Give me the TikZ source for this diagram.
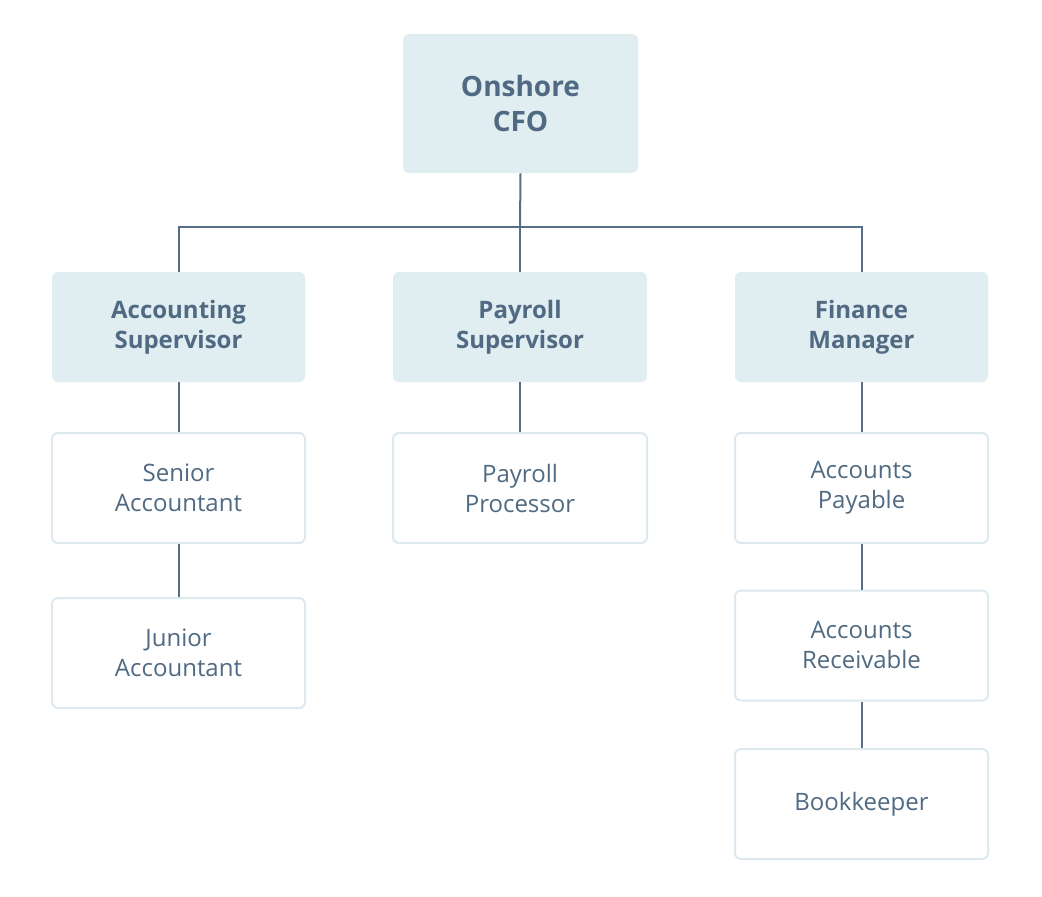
\documentclass[tikz,border=0pt]{standalone}
\usepackage{fontspec}
\setmainfont{Open Sans}
\definecolor{fillc}{HTML}{E0EDF1}
\definecolor{txt}{HTML}{4F6A82}
\definecolor{linec}{HTML}{566F86}
\definecolor{bord}{HTML}{DDE9EE}
\tikzset{
 px/.style={x=0.75pt,y=-0.75pt},
 topbox/.style={fill=fillc,rounded corners=4.5pt,text=txt,font=\bfseries\fontsize{18}{22.5}\selectfont,align=center,inner sep=0pt},
 whitebox/.style={fill=white,draw=bord,line width=1.5pt,rounded corners=4.5pt,text=txt,font=\fontsize{18}{22.5}\selectfont,align=center,inner sep=0pt},
 conn/.style={draw=linec,line width=1.5pt}
}
\begin{document}
\begin{tikzpicture}[px]
\useasboundingbox (0,0) rectangle (1042,896);
\node[topbox,minimum width=176.25pt,minimum height=104.25pt,font=\bfseries\fontsize{21}{26}\selectfont] (cfo) at (520.5,103.5) {Onshore\\CFO};
\node[topbox,minimum width=189.75pt,minimum height=82.5pt] (acc) at (178.5,327) {Accounting\\Supervisor};
\node[topbox,minimum width=190.5pt,minimum height=82.5pt] (pay) at (520,327) {Payroll\\Supervisor};
\node[topbox,minimum width=189.75pt,minimum height=82.5pt] (fin) at (861.5,327) {Finance\\Manager};
\node[whitebox,minimum width=189.75pt,minimum height=82.5pt] (sen) at (178.5,488) {Senior\\Accountant};
\node[whitebox,minimum width=189.75pt,minimum height=82.5pt] (jun) at (178.5,653) {Junior\\Accountant};
\node[whitebox,minimum width=190.5pt,minimum height=82.5pt] (pp) at (520,488) {Payroll\\Processor};
\node[whitebox,minimum width=189.75pt,minimum height=82.5pt] (ap) at (861.5,488) {Accounts\\Payable};
\node[whitebox,minimum width=189.75pt,minimum height=82.5pt] (ar) at (861.5,645.5) {Accounts\\Receivable};
\node[whitebox,minimum width=189.75pt,minimum height=82.5pt] (bk) at (861.5,804) {Bookkeeper};
\coordinate (j) at (520,227);
\draw[conn] (cfo.south) -- (j);
\draw[conn] (acc.north) |- (j) -| (fin.north);
\draw[conn] (j) -- (pay.north);
\draw[conn] (acc) -- (sen);
\draw[conn] (sen) -- (jun);
\draw[conn] (pay) -- (pp);
\draw[conn] (fin) -- (ap);
\draw[conn] (ap) -- (ar);
\draw[conn] (ar) -- (bk);
\end{tikzpicture}
\end{document}
